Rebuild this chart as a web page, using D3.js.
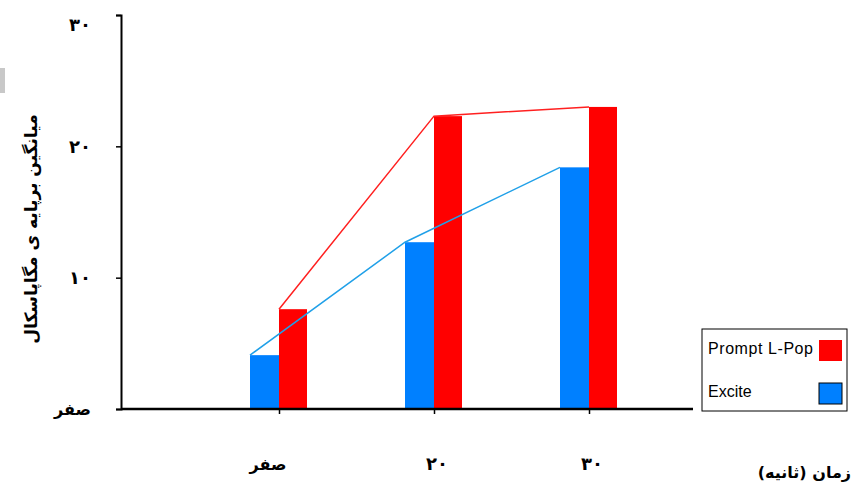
<!DOCTYPE html>
<html>
<head>
<meta charset="utf-8">
<script src="https://cdn.jsdelivr.net/npm/d3@7"></script>
<style>
  body { margin: 0; background: #fff; }
  .lbl { font-family: "DejaVu Sans", sans-serif; font-weight: bold; fill: #000; }
  .leg { font-family: "Liberation Sans", Arial, sans-serif; font-size: 16px; fill: #000; }
</style>
</head>
<body>
<svg id="chart" width="861" height="489"></svg>
<script>
// zaman (sanieh) categories
const categories = ["صفر", "۲۰", "۳۰"];
const promptLPop = [7.6, 22.3, 23.0];
const excite = [4.1, 12.7, 18.4];
const yTicks = [0, 10, 20, 30];
const yTickLabels = ["صفر", "۱۰", "۲۰", "۳۰"];

const svg = d3.select("#chart");
const barW = 29;

const yScale = d3.scaleLinear().domain([0, 30]).range([409, 15]);
const xScale = d3.scalePoint().domain(categories).range([279, 589]);

// left grey sliver
svg.append("rect").attr("x", 0).attr("y", 68).attr("width", 5).attr("height", 25).attr("fill", "#c8c8c8");

// y axis
const yAxis = d3.axisLeft(yScale).tickValues(yTicks).tickSize(5).tickFormat((d, i) => yTickLabels[i]);
const gy = svg.append("g").attr("transform", "translate(121,0)").call(yAxis);
gy.select(".domain").attr("stroke", "#000").attr("stroke-width", 2);
gy.selectAll(".tick line").attr("stroke", "#000").attr("stroke-width", 1.5);
gy.selectAll(".tick text").attr("class", "lbl").attr("font-size", d => d === 0 ? 16 : 18)
  .attr("x", -30).attr("dy", "0.35em").attr("font-family", null);
gy.selectAll(".tick").filter(d => d === 30).select("text").attr("dy", "0.85em");

// bars
const g = svg.append("g");
g.selectAll(".ex").data(categories).enter().append("rect")
  .attr("x", d => xScale(d) - barW).attr("y", (d, i) => yScale(excite[i]))
  .attr("width", barW).attr("height", (d, i) => yScale(0) - yScale(excite[i]))
  .attr("fill", "#0080ff");
g.selectAll(".pr").data(categories).enter().append("rect")
  .attr("x", d => xScale(d)).attr("y", (d, i) => yScale(promptLPop[i]))
  .attr("width", barW - 1).attr("height", (d, i) => yScale(0) - yScale(promptLPop[i]))
  .attr("fill", "#ff0000");

// lines through the top-left corners of bars
const lineEx = d3.line().x(d => xScale(d) - barW).y((d, i) => yScale(excite[i]));
const linePr = d3.line().x(d => xScale(d)).y((d, i) => yScale(promptLPop[i]));
g.append("path").attr("d", linePr(categories)).attr("fill", "none").attr("stroke", "#ff2020").attr("stroke-width", 1.5);
g.append("path").attr("d", lineEx(categories)).attr("fill", "none").attr("stroke", "#20a0e8").attr("stroke-width", 1.5);

// x axis
const xAxis = d3.axisBottom(xScale).tickSize(5).tickFormat("");
const gx = svg.append("g").attr("transform", "translate(0,409)").call(xAxis);
gx.select(".domain").remove();
gx.selectAll(".tick line").attr("stroke", "#000").attr("stroke-width", 1.5);
svg.append("line").attr("x1", 121).attr("x2", 693).attr("y1", 409).attr("y2", 409)
  .attr("stroke", "#000").attr("stroke-width", 2.5);

svg.selectAll(".xl").data(categories).enter().append("text")
  .attr("class", "lbl").attr("font-size", (d, i) => i === 0 ? 16 : 18).attr("text-anchor", "middle")
  .attr("x", (d, i) => xScale(d) + (i === 0 ? -11 : 3)).attr("y", 470)
  .text(d => d);

// axis titles
svg.append("text").attr("class", "lbl").attr("font-size", 16).attr("text-anchor", "end")
  .attr("x", 851).attr("y", 478).text("زمان (ثانیه)");
svg.append("text").attr("class", "lbl").attr("font-size", 17).attr("text-anchor", "middle")
  .attr("transform", "translate(37,229) rotate(-90)").text("میانگین برپایه ی مگاپاسکال");

// legend
const leg = svg.append("g").attr("transform", "translate(702,329)");
leg.append("rect").attr("width", 145).attr("height", 82).attr("fill", "#fff").attr("stroke", "#000").attr("stroke-width", 1);
const legItems = [["Prompt L-Pop", "#ff0000", "none"], ["Excite", "#0080ff", "#000"]];
legItems.forEach((it, i) => {
  leg.append("text").attr("class", "leg").attr("x", 6).attr("y", 25 + i * 43)
    .attr("textLength", i === 0 ? 105 : null).text(it[0]);
  leg.append("rect").attr("x", 117).attr("y", 11 + i * 43).attr("width", 23).attr("height", 21)
    .attr("fill", it[1]).attr("stroke", it[2]);
});
</script>
</body>
</html>
